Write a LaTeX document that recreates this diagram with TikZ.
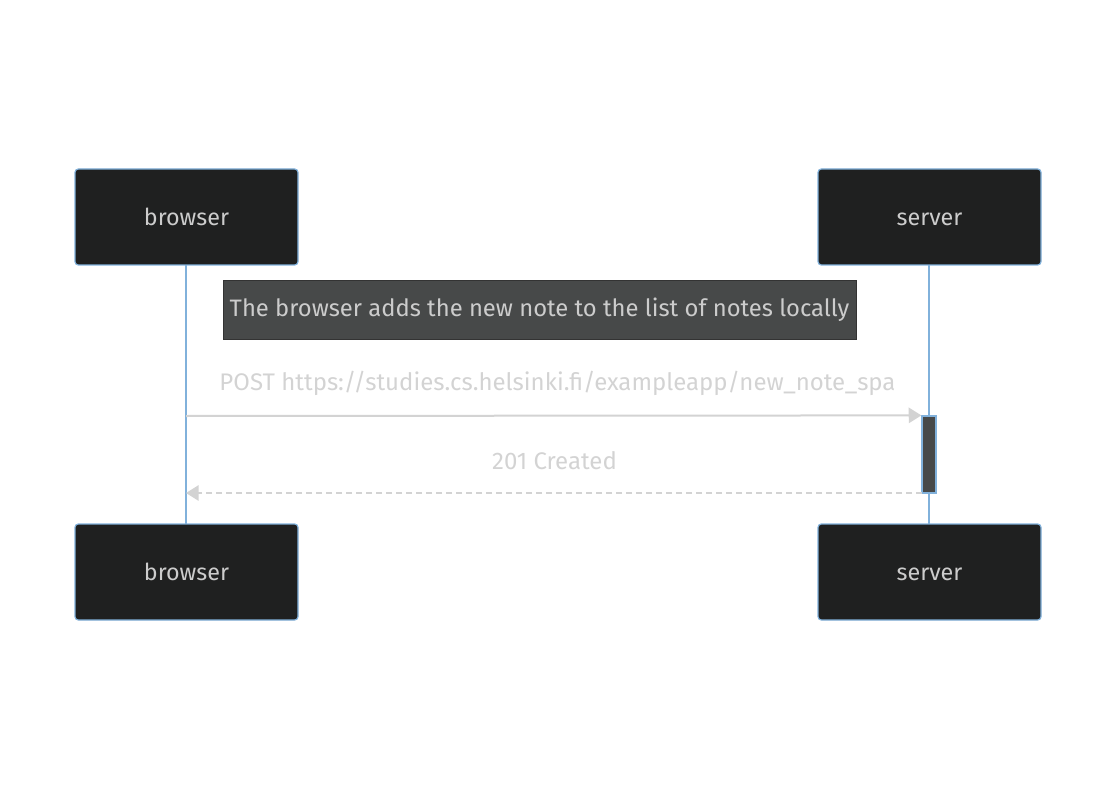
\documentclass[tikz,border=0pt]{standalone}
\usepackage{fontspec}
\setmainfont{Fira Sans}
\usetikzlibrary{arrows.meta}
\definecolor{boxfill}{HTML}{1F2020}
\definecolor{boxline}{HTML}{81B1DB}
\definecolor{notefill}{HTML}{474949}
\definecolor{noteline}{HTML}{333333}
\definecolor{txt}{HTML}{CCCCCC}
\definecolor{msg}{HTML}{D3D3D3}
\tikzset{
  actor/.style={draw=boxline, fill=boxfill, rounded corners=2.5pt, line width=0.9pt,
    minimum width=223*0.75pt, minimum height=96*0.75pt, inner sep=0pt,
    text=txt, font=\fontsize{17.5}{20}\selectfont, text height=14pt, text depth=1pt},
  notebox/.style={draw=noteline, fill=notefill, line width=0.75pt,
    minimum width=633*0.75pt, minimum height=58*0.75pt, inner sep=0pt,
    text=txt, font=\fontsize{17.85}{20}\selectfont},
  lifeline/.style={draw=boxline, line width=1.6pt},
  msgline/.style={draw=msg, line width=1.5pt, -{Triangle[length=9.5pt,width=11.5pt]}},
  msglabel/.style={text=msg, font=\fontsize{18}{20}\selectfont, inner sep=0pt},
  act/.style={draw=boxline, fill=notefill, line width=0.9pt, minimum width=14*0.75pt,
    minimum height=77*0.75pt, inner sep=0pt}
}
\begin{document}
\begin{tikzpicture}[x=0.75pt,y=-0.75pt]
\useasboundingbox (0,0) rectangle (1116,791);
\coordinate (bt) at (186,265);
\coordinate (bb) at (186,524);
\coordinate (st) at (929,265);
\coordinate (sb) at (929,524);
\draw[lifeline] (bt) -- (bb);
\draw[lifeline] (st) -- (sb);
\node[actor] (b1) at (186.5,217) {browser};
\node[actor] (s1) at (929.5,217) {server};
\node[actor] (b2) at (186.5,572) {browser};
\node[actor] (s2) at (929.5,572) {server};
\node[notebox] (note) at (539.5,310) {The browser adds the new note to the list of notes locally};
\node[act] (a1) at (929,454.5) {};
\coordinate (m1s) at (186,416);
\coordinate (m2s) at (922,493);
\coordinate (m2e) at (186,493);
\draw[msgline] (m1s) -- (a1.north west);
\node[msglabel] (l1) at (557.5,383) {POST https://studies.cs.helsinki.fi/exampleapp/new\_note\_spa};
\draw[msgline, dash pattern=on 4.5pt off 3pt] (m2s) -- (m2e);
\node[msglabel] (l2) at (554.5,461) {201 Created};
\end{tikzpicture}
\end{document}
